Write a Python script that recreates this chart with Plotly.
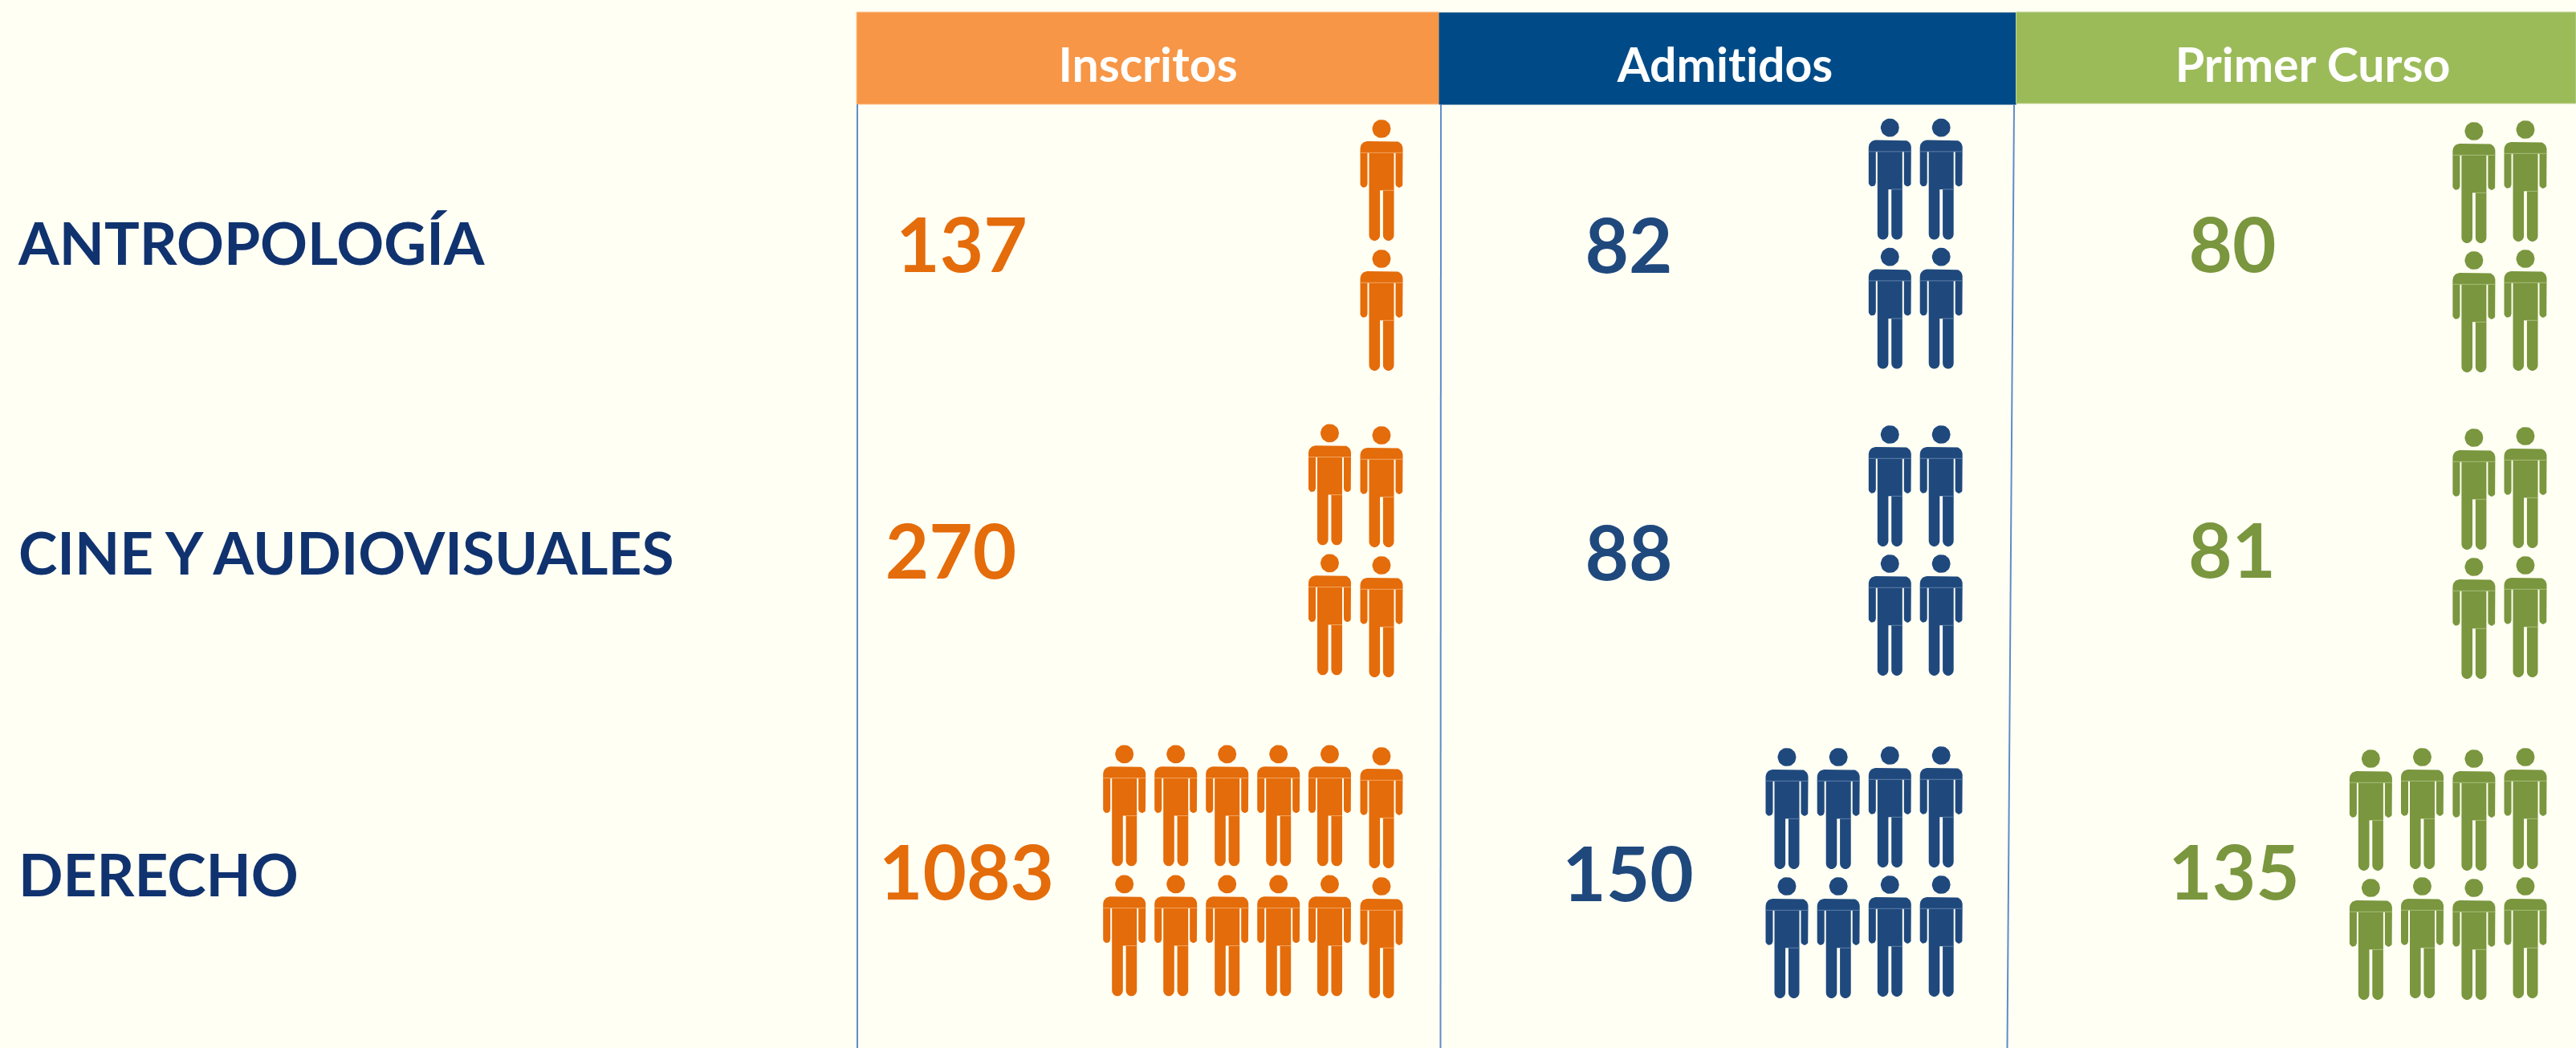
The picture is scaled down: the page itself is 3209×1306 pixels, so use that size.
import numpy as np
import plotly.graph_objects as go

W, H = 3209, 1306

# data
programs = ['ANTROPOLOGÍA', 'CINE Y AUDIOVISUALES', 'DERECHO']
headers = ['Inscritos', 'Admitidos', 'Primer Curso']
inscritos = [137, 270, 1083]
admitidos = [82, 88, 150]
primer_curso = [80, 81, 135]
icons_inscritos = [2, 4, 12]
icons_admitidos = [4, 4, 8]
icons_primer = [4, 4, 8]

# layout, all in picture pixels
BG = '#FFFFF4'
NAVY = '#10336F'
LINE = '#5F8CC8'
HEADER_X = [(1067, 1793), (1793, 2511.5), (2511.5, 3209)]
HEADER_Y = [(15, 130), (16, 130), (15, 129)]
HEADER_COLORS = ['#F79646', '#004B87', '#9BBB59']
HEADER_EDGES = ['#FBC79A', '#004B87', '#C3D69B']
HEADER_TEXT_X = [1430, 2149, 2881]
HEADER_TEXT_Y = [87, 87, 87]
MARK_COLORS = ['#E46C0A', '#1F497D', '#7A963E']
SEAM_COLORS = ['#F2A765', '#5F80A8', '#A9BF7C']
RULES = [((1068, 130), (1068, 1306)), ((1795, 130), (1794.5, 1306)), ((2509, 130), (2500.5, 1306))]
LABEL_X = 23
LABEL_Y = [312, 698, 1099]
VALUE_X = [[1198, 1184.5, 1204], [2029, 2029, 2028], [2781, 2780.5, 2783]]
VALUE_Y = [[315, 697, 1097], [316.5, 699, 1099.5], [315, 696, 1097]]
ICON_X = [
    [1400.7, 1464.7, 1528.7, 1592.7, 1656.5, 1721],
    [2226, 2290.2, 2354.3, 2418.2],
    [2953.4, 3017.5, 3081.9, 3146],
]
# head top of each icon column, first line of icons, per program
ICON_TOP = [
    [[149], [528.3, 531], [928.3, 928.3, 928.3, 928.3, 928.3, 931]],
    [[147.6, 147.6], [530, 530], [932, 932, 930, 930]],
    [[152, 150], [534, 532], [934, 932, 934, 932]],
]
ICON_ROW_STEP = [162, 161, 161]


def arc(cx, cy, r, start, end, n=10):
    t = np.radians(np.linspace(start, end, n))
    return list(cx + r * np.cos(t)), list(cy + r * np.sin(t))


def person_outline():
    """Person outline around x=0, y=0 at the top of the head, y pointing down."""
    parts = [
        arc(-17.5, 36, 9, 180, 270),
        arc(17.5, 36, 9, 270, 360),
        arc(22, 80.2, 4.5, 0, 180),
        ([17.5, 15.5], [41.3, 41.3]),
        arc(8.7, 144.2, 6.8, 0, 180),
        ([1.9, -1.9], [88.3, 88.3]),
        arc(-8.7, 144.2, 6.8, 0, 180),
        ([-15.5, -17.5], [41.3, 41.3]),
        arc(-22, 80.2, 4.5, 0, 180),
    ]
    xs = [v for p in parts for v in p[0]]
    ys = [v for p in parts for v in p[1]]
    return xs + xs[:1], ys + ys[:1]


BODY_X, BODY_Y = person_outline()
HEAD_X, HEAD_Y = arc(0, 11.5, 11.5, 0, 360, 30)
SEAM_X = [-26.5, 26.5, None, 1.9, 15.5]
SEAM_Y = [41.3, 41.3, None, 88.3, 88.3]

fig = go.Figure()

for c, (x0, x1) in enumerate(HEADER_X):
    y0, y1 = HEADER_Y[c]
    fig.add_shape(type='rect', x0=x0, x1=x1, y0=y0, y1=y1, layer='below',
                  fillcolor=HEADER_COLORS[c], line=dict(color=HEADER_EDGES[c], width=1))

for p0, p1 in RULES:
    fig.add_shape(type='line', x0=p0[0], y0=p0[1], x1=p1[0], y1=p1[1],
                  layer='below', line=dict(color=LINE, width=2))

# header titles
fig.add_trace(go.Scatter(
    x=HEADER_TEXT_X, y=HEADER_TEXT_Y, mode='text', text=headers,
    textfont=dict(family='Lato', size=59, color='white', weight=700),
    textposition='middle center', hoverinfo='skip'
))

# program names
fig.add_trace(go.Scatter(
    x=[LABEL_X] * 3, y=LABEL_Y, mode='text', text=programs,
    textfont=dict(family='Lato', size=73, color=NAVY, weight=700),
    textposition='middle right', hoverinfo='skip'
))

columns = [
    (inscritos, icons_inscritos),
    (admitidos, icons_admitidos),
    (primer_curso, icons_primer),
]
for c, (values, icons) in enumerate(columns):
    # numbers
    fig.add_trace(go.Scatter(
        x=VALUE_X[c], y=VALUE_Y[c], mode='text', text=[str(v) for v in values],
        textfont=dict(family='Lato', size=94, color=MARK_COLORS[c], weight=700),
        textposition='middle center', hoverinfo='skip'
    ))

    # person icons, two lines of them, right aligned in the column
    fill_x, fill_y, seam_x, seam_y = [], [], [], []
    for r, count in enumerate(icons):
        per_line = count // 2
        xs = ICON_X[c][-per_line:]
        tops = ICON_TOP[c][r]
        for cx, top in zip(xs, tops):
            for line in range(2):
                y0 = top + line * ICON_ROW_STEP[c]
                fill_x += [cx + v for v in BODY_X] + [None] + [cx + v for v in HEAD_X] + [None]
                fill_y += [y0 + v for v in BODY_Y] + [None] + [y0 + v for v in HEAD_Y] + [None]
                seam_x += [None if v is None else cx + v for v in SEAM_X] + [None]
                seam_y += [None if v is None else y0 + v for v in SEAM_Y] + [None]
    fig.add_trace(go.Scatter(
        x=fill_x, y=fill_y, mode='lines', fill='toself', fillcolor=MARK_COLORS[c],
        line=dict(width=0, color=MARK_COLORS[c]), hoverinfo='skip'
    ))
    fig.add_trace(go.Scatter(
        x=seam_x, y=seam_y, mode='lines',
        line=dict(width=1, color=SEAM_COLORS[c]), hoverinfo='skip'
    ))

fig.update_layout(
    width=W, height=H, autosize=False,
    margin=dict(l=0, r=0, t=0, b=0),
    paper_bgcolor=BG, plot_bgcolor=BG,
    showlegend=False
)
fig.update_xaxes(range=[0, W], visible=False, fixedrange=True)
fig.update_yaxes(range=[H, 0], visible=False, fixedrange=True)

# Lato joins "ti" by default, the reference font does not
fig.write_html(
    "out.html",
    config=dict(displayModeBar=False),
    post_script=(
        "document.body.style.margin='0';document.body.style.overflow='hidden';"
        "document.querySelectorAll('text').forEach(function(t){t.style.fontVariantLigatures='none';});"
    )
)
